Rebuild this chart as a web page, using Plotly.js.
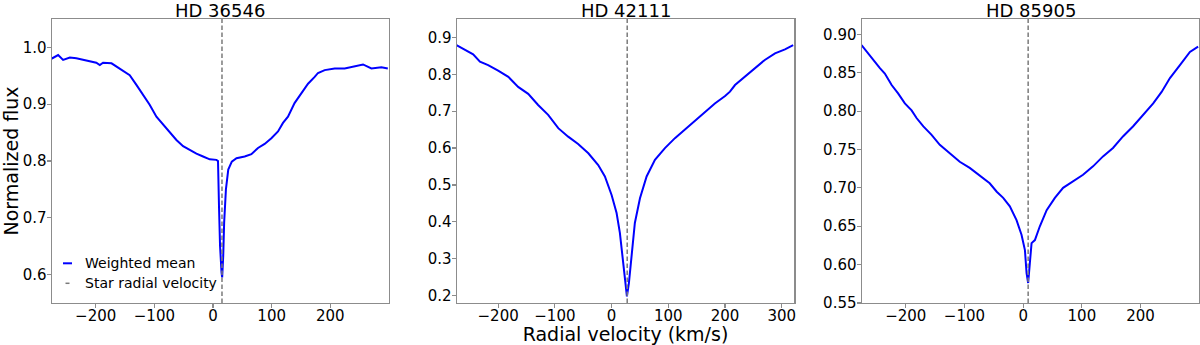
<!DOCTYPE html>
<html>
<head>
<meta charset="utf-8">
<script src="https://cdn.plot.ly/plotly-3.0.1.min.js"></script>
<style>html,body{margin:0;padding:0;background:#fff;}#chart{width:1200px;height:345px;}</style>
</head>
<body>
<div id="chart"></div>
<script>
// ---- Data ----
const starNames = ["HD 36546", "HD 42111", "HD 85905"];
const starRV = [15.3, 27.5, 8.5];

const v1 = [-275.5,-264,-255.6,-244,-233,-221.6,-210,-199,-193,-187.5,-173,-164.7,-153,-142,-130.6,-119,-108,-96.5,-85,-73.8,-62.4,-51,-39.7,-28.3,-17,-5.6,5.8,8.5,10.2,12,14.5,15.6,17.4,19,22,26,32,40,54,65.4,76.7,88,99.5,110.8,119.3,127.8,139,150.7,162,173.3,179,190.4,207.4,224.5,241.5,255.7,270,287,298];
const f1 = [0.980,0.9865,0.978,0.982,0.981,0.978,0.975,0.973,0.969,0.973,0.972,0.966,0.959,0.951,0.934,0.916,0.899,0.878,0.864,0.849,0.837,0.826,0.819,0.813,0.808,0.803,0.802,0.800,0.720,0.650,0.604,0.595,0.633,0.692,0.750,0.785,0.799,0.805,0.808,0.812,0.823,0.830,0.840,0.852,0.867,0.878,0.902,0.920,0.936,0.948,0.955,0.960,0.963,0.963,0.967,0.970,0.963,0.965,0.963];

const v2 = [-273.4,-258.7,-244,-232,-217.6,-200,-182,-164.7,-147,-129.5,-111.8,-94,-76.5,-59,-41,-23.6,-11.8,0,8.8,14.6,20.5,23.5,27,30.5,35.3,41,50,61.7,76.4,94,111.6,135,158.7,182,200,208.6,217.5,235,252.7,270,288,305.6,320];
const f2 = [0.879,0.8675,0.854,0.834,0.825,0.810,0.793,0.766,0.747,0.717,0.690,0.654,0.631,0.611,0.586,0.554,0.523,0.473,0.424,0.370,0.288,0.234,0.198,0.234,0.315,0.397,0.464,0.523,0.568,0.600,0.627,0.658,0.690,0.721,0.741,0.753,0.771,0.793,0.816,0.839,0.857,0.8675,0.879];

const v3 = [-275.3,-264,-252.6,-244,-235.6,-224,-213,-201.5,-190,-181.6,-170,-156,-142,-125,-108,-91,-74,-57,-45,-34,-22.7,-11.3,-2.8,3,5.8,8.5,11.4,14.3,20,28.4,40,54,68,85,102,119,136,153,170,187,204,221.5,235.8,250,267,284,298];
const f3 = [0.886,0.875,0.864,0.856,0.849,0.834,0.823,0.810,0.801,0.791,0.780,0.769,0.756,0.745,0.734,0.726,0.716,0.706,0.695,0.687,0.676,0.658,0.639,0.619,0.589,0.576,0.602,0.628,0.632,0.650,0.671,0.687,0.700,0.708,0.717,0.728,0.741,0.752,0.767,0.780,0.795,0.810,0.825,0.843,0.860,0.877,0.884];

const xTicks1 = [-200,-100,0,100,200];
const xTicks2 = [-200,-100,0,100,200,300];
const xTicks3 = [-200,-100,0,100,200];
const yTicks1 = [0.6,0.7,0.8,0.9,1.0];
const yTicks2 = [0.2,0.3,0.4,0.5,0.6,0.7,0.8,0.9];
const yTicks3 = [0.55,0.60,0.65,0.70,0.75,0.80,0.85,0.90];

const legendLabels = ["Weighted mean", "Star radial velocity"];

// ---- Config ----
const xRanges = [[-275,300],[-273,322],[-275,300]];
const yRanges = [[0.55,1.05],[0.18,0.95],[0.55,0.92]];
const W = 1200, H = 345;
const plotTop = 19, plotBottom = 303;
const xDomPx = [[51.7,389],[456.7,794.3],[861.7,1199.3]];
const FONT = "DejaVu Sans, sans-serif";
const BLUE = "#0000ff", GRAY = "#7a7a7a", SPINE = "#8c8c8c";

const vs = [v1,v2,v3], fs = [f1,f2,f3];
const xt = [xTicks1,xTicks2,xTicks3], yt = [yTicks1,yTicks2,yTicks3];
const ydec = [1,1,2];

const traces = [];
const layout = {
  width: W, height: H,
  margin: {l:0,r:0,t:0,b:0},
  paper_bgcolor: "#fff", plot_bgcolor: "#fff",
  showlegend: false,
  font: {family: FONT, size: 15, color: "#000"},
  annotations: [], shapes: []
};
const yDom = [1 - plotBottom/H, 1 - plotTop/H];

for (let i = 0; i < 3; i++) {
  const s = i === 0 ? "" : String(i+1);
  traces.push({x: vs[i], y: fs[i], type: "scatter", mode: "lines",
    line: {color: BLUE, width: 2}, xaxis: "x"+s, yaxis: "y"+s, name: legendLabels[0]});
  traces.push({x: [starRV[i], starRV[i]], y: yRanges[i], type: "scatter", mode: "lines",
    line: {color: GRAY, width: 1.5, dash: "4.5px,2.5px"}, xaxis: "x"+s, yaxis: "y"+s, name: legendLabels[1]});
  const common = {showgrid: false, zeroline: false, showline: true, mirror: true,
    linecolor: SPINE, linewidth: 1.2, ticks: "outside", ticklen: 4, tickwidth: 1.2, tickcolor: SPINE,
    tickfont: {family: FONT, size: 15, color: "#000"}};
  layout["xaxis"+s] = Object.assign({}, common, {
    domain: [xDomPx[i][0]/W, xDomPx[i][1]/W], range: xRanges[i], anchor: "y"+s,
    ticklabelstandoff: -5,
    tickmode: "array", tickvals: xt[i], ticktext: xt[i].map(v => v < 0 ? "\u2212" + Math.abs(v) : String(v))
  });
  layout["yaxis"+s] = Object.assign({}, common, {
    domain: yDom, range: yRanges[i], anchor: "x"+s,
    ticklabelstandoff: -3,
    tickmode: "array", tickvals: yt[i], ticktext: yt[i].map(v => v.toFixed(ydec[i]))
  });
  layout.annotations.push({text: starNames[i], xref: "paper", yref: "paper",
    x: (xDomPx[i][0]+xDomPx[i][1])/2/W, y: 1 - 22/H, xanchor: "center", yanchor: "bottom",
    borderpad: 0, showarrow: false, font: {family: FONT, size: 18, color: "#000"}});
}
layout.xaxis2.title = {text: "Radial velocity (km/s)", font: {family: FONT, size: 19, color: "#000"}, standoff: 2};
layout.yaxis.title = {text: "Normalized flux", font: {family: FONT, size: 19, color: "#000"}, standoff: 0};

// manual legend inside first panel
const legY = [263.3, 283.3];
layout.shapes.push({type: "line", xref: "paper", yref: "paper", x0: 63/W, x1: 72/W,
  y0: 1 - legY[0]/H, y1: 1 - legY[0]/H, line: {color: BLUE, width: 2}});
layout.shapes.push({type: "line", xref: "paper", yref: "paper", x0: 65.5/W, x1: 69.5/W,
  y0: 1 - legY[1]/H, y1: 1 - legY[1]/H, line: {color: GRAY, width: 1.5}});
for (let k = 0; k < 2; k++) {
  layout.annotations.push({text: legendLabels[k], xref: "paper", yref: "paper",
    x: 82.5/W, y: 1 - legY[k]/H, xanchor: "left", yanchor: "middle", showarrow: false,
    font: {family: FONT, size: 14, color: "#000"}});
}

Plotly.newPlot("chart", traces, layout, {staticPlot: true, displayModeBar: false});
</script>
</body>
</html>
